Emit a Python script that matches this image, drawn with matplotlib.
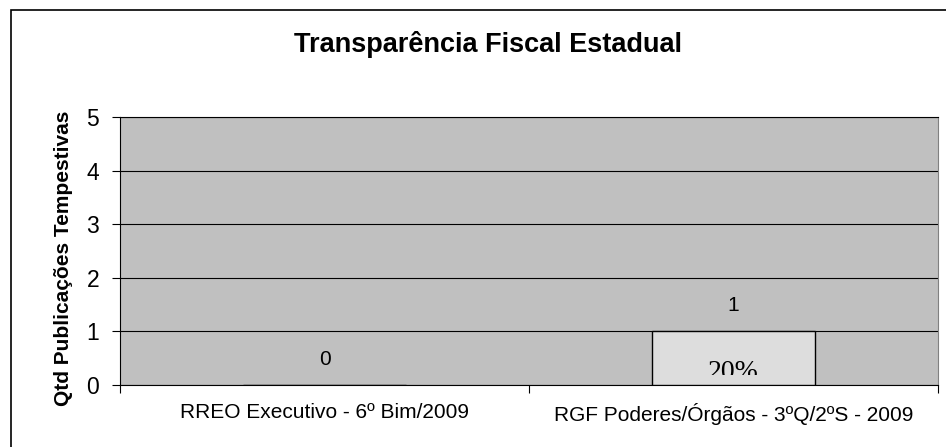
import matplotlib
matplotlib.use('Agg')
import matplotlib.pyplot as plt
from matplotlib.patches import Rectangle

# data
categories = ["RREO Executivo - 6º Bim/2009", "RGF Poderes/Órgãos - 3ºQ/2ºS - 2009"]
values = [0, 1]
pct_labels = ["", "20%"]
yticks = [0, 1, 2, 3, 4, 5]

plt.rcParams['font.family'] = ['Liberation Sans', 'DejaVu Sans']

fig = plt.figure(figsize=(9.46, 4.47), dpi=100)
fig.patch.set_facecolor('white')
fig.patches.append(Rectangle((11 / 946, -0.01), 1.0, 1 - 10 / 447 + 0.01,
                             transform=fig.transFigure, fill=False,
                             edgecolor='black', linewidth=1.2))

ax = fig.add_axes([120 / 946, 1 - 385 / 447, 818 / 946, 268 / 447])
ax.set_facecolor('#C0C0C0')

x = list(range(len(categories)))
bars = ax.bar(x, values, width=0.4, color='#DDDDDD', edgecolor='black',
              linewidth=1.0, zorder=3)

for xi, v, p, b in zip(x, values, pct_labels, bars):
    ax.text(xi, v + 0.48, str(v), ha='center', va='center', fontsize=15, zorder=4)
    if p:
        t = ax.text(xi, 0.12, p, ha='center', va='baseline', fontsize=20,
                    family='Liberation Serif', zorder=4, clip_on=True)
        # label box cuts the text at the bottom, as in the original
        clip = Rectangle((b.get_x(), 0.19), b.get_width(), v,
                         transform=ax.transData)
        t.set_clip_path(clip)

ax.set_xlim(-0.5, len(categories) - 0.5)
ax.set_ylim(0, 5)
ax.set_yticks(yticks)
ax.tick_params(axis='y', labelsize=16.5, direction='out', length=6, color='black', pad=9)
ax.yaxis.grid(True, color='black', linewidth=0.8, zorder=1)
ax.set_axisbelow(True)

ax.set_xticks([i - 0.5 for i in range(len(categories) + 1)])
ax.set_xticklabels([])
ax.set_xticks(x, minor=True)
ax.set_xticklabels(categories, minor=True, fontsize=15)
ax.tick_params(axis='x', which='major', direction='out', length=6)
ax.tick_params(axis='x', which='minor', length=0, pad=13)

for s in ['left', 'bottom', 'top']:
    ax.spines[s].set_color('black')
ax.spines['right'].set_color('#808080')

ax.set_ylabel("Qtd Publicações Tempestivas", fontsize=15, fontweight='bold')
ax.yaxis.set_label_coords(-0.0575, 0.472)
fig.text(488 / 946, 1 - 44 / 447, "Transparência Fiscal Estadual", ha='center',
         va='center', fontsize=19.5, fontweight='bold')

fig.savefig('out.png', dpi=100)
